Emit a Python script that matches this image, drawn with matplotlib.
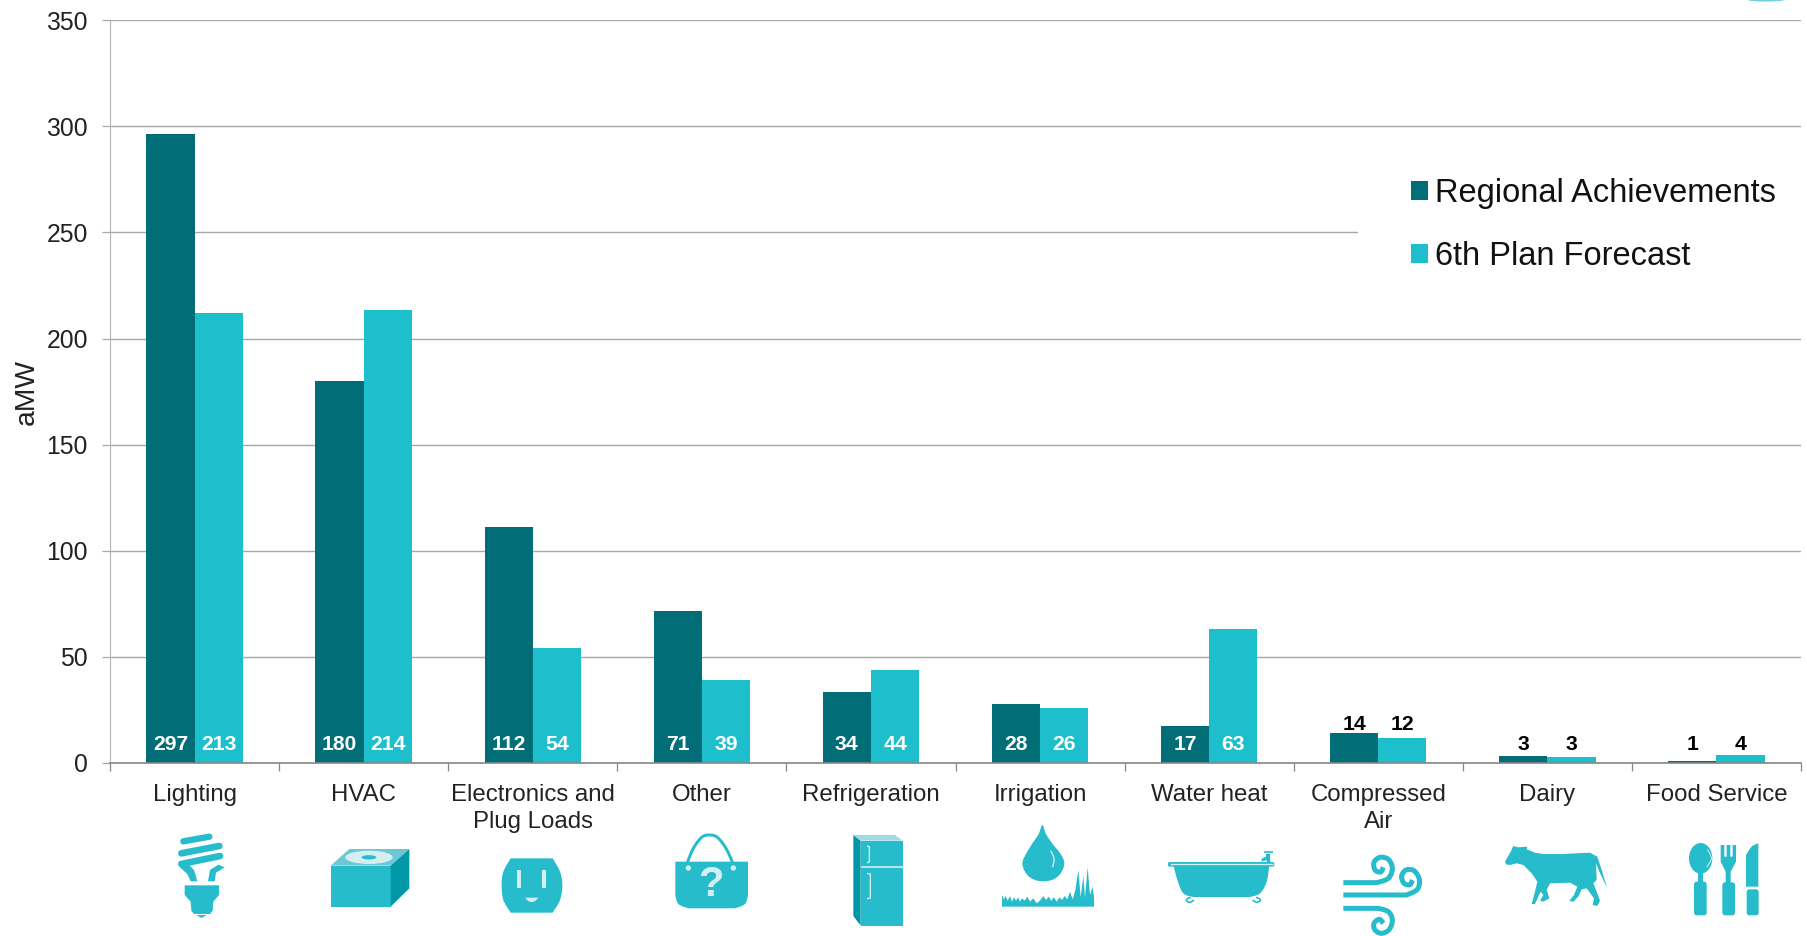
import numpy as np
import matplotlib
matplotlib.use('Agg')
import matplotlib.pyplot as plt
from matplotlib.patches import Polygon, Rectangle, Ellipse, Circle, FancyBboxPatch

categories = ['Lighting', 'HVAC', 'Electronics and\nPlug Loads', 'Other', 'Refrigeration',
              'Irrigation', 'Water heat', 'Compressed\nAir', 'Dairy', 'Food Service']
regional = [296.5, 180, 111, 71.5, 33.5, 28, 17.5, 14, 3.5, 1]
forecast = [212, 213.5, 54, 39, 44, 26, 63, 12, 3, 4]
regional_labels = ['297', '180', '112', '71', '34', '28', '17', '14', '3', '1']
forecast_labels = ['213', '214', '54', '39', '44', '26', '63', '12', '3', '4']
yticks = [0, 50, 100, 150, 200, 250, 300, 350]

DARK = '#006d77'
LIGHT = '#1dbfcd'
ICON = '#27bccb'
ICON_DARK = '#0097a6'
ICON_PALE = '#d3eff3'

W, H = 1807, 936
plt.rcParams['font.family'] = ['Liberation Sans', 'DejaVu Sans']
fig = plt.figure(figsize=(W/100, H/100), dpi=100)
ax = fig.add_axes([110/W, 1-763/H, (1801-110)/W, (763-20.3)/H])

x = np.arange(len(categories))+0.5
w = 0.285
ax.bar(x-w/2, regional, w, color=DARK, label='Regional Achievements')
ax.bar(x+w/2, forecast, w, color=LIGHT, label='6th Plan Forecast')
ax.set_xlim(0, 10)
ax.set_ylim(0, 350)
ax.set_axisbelow(True)
ax.yaxis.grid(True, color='#a8a8a8', lw=1.0)
ax.set_yticks(yticks)
ax.tick_params(axis='y', labelsize=17.8, length=6, width=0.9, color='#a8a8a8', pad=10, labelcolor='#222222')
ax.set_xticks(np.arange(11))
ax.set_xticklabels([])
ax.tick_params(axis='x', which='major', length=6, width=0.9, color='#868686')
ax.set_xticks(x, minor=True)
ax.set_xticklabels(categories, minor=True, fontsize=17.3, color='#222222', linespacing=1.3)
ax.tick_params(axis='x', which='minor', length=0, pad=15)
for s in ['top', 'right']:
    ax.spines[s].set_visible(False)
ax.spines['left'].set_color('#b4b4b4')
ax.spines['bottom'].set_color('#868686')
ax.spines['bottom'].set_linewidth(1.2)
fig.text(27/W, 1-392/H, 'aMW', rotation=90, fontsize=20.3, color='#222222', ha='center', va='center')

# bar value labels sit at a fixed height above the axis
for i in range(len(categories)):
    off = 38 if categories[i].startswith('Compressed') else 18
    col = 'white' if i < 7 else 'black'
    for xx, t in ((x[i]-w/2, regional_labels[i]), (x[i]+w/2, forecast_labels[i])):
        ax.annotate(t, (xx, 0), xytext=(0, off*0.72), textcoords='offset points', ha='center', va='center',
                    fontsize=15.2, fontweight='bold', color=col)

# legend knocks out the 250 gridline behind it
ax.add_patch(Rectangle(((1358-110)/169.1, 225), 3, 50, color='white', zorder=0.8, clip_on=False, lw=0))
leg = ax.legend(loc='upper left', bbox_to_anchor=(1411/W, 1-178/H), bbox_transform=fig.transFigure,
                frameon=False, fontsize=23.5, handlelength=0.52, handleheight=0.52, handletextpad=0.22,
                labelspacing=0.98, borderpad=0, borderaxespad=0)
for t in leg.get_texts():
    t.set_color('#111111')

# icons under the axis, drawn in pixel space. coords are (origin + zoomed/3)
ov = fig.add_axes([0, 0, 1, 1], zorder=5)
ov.set_xlim(0, W)
ov.set_ylim(H, 0)
ov.axis('off')


def smooth(pts, closed=False, n=12):
    p = np.array(pts, float)
    if closed:
        p = np.vstack([p[-1], p, p[0], p[1]])
    else:
        p = np.vstack([p[0], p, p[-1]])
    out = []
    for i in range(1, len(p)-2):
        for t in np.linspace(0, 1, n, endpoint=False):
            a = 2*p[i]+(p[i+1]-p[i-1])*t+(2*p[i-1]-5*p[i]+4*p[i+1]-p[i+2])*t*t
            b = (3*p[i]-p[i-1]-3*p[i+1]+p[i+2])*t*t*t
            out.append(0.5*(a+b))
    if not closed:
        out.append(p[-1])
    return np.array(out)


def poly(o, pts, color=ICON):
    p = np.array(pts, float)/3+o
    ov.add_patch(Polygon(p, closed=True, color=color, lw=0))


def stroke(o, pts, width, color=ICON, cap='butt'):
    p = np.array(pts, float)/3+o
    ov.plot(p[:, 0], p[:, 1], color=color, lw=width/3*0.72, solid_capstyle=cap, solid_joinstyle='round')


def rrect(o, x0, y0, x1, y1, r=4, color=ICON):
    ov.add_patch(FancyBboxPatch((o[0]+(x0+r)/3, o[1]+(y0+r)/3), (x1-x0-2*r)/3, (y1-y0-2*r)/3,
                                boxstyle=f'round,pad={r/3},rounding_size={r/3}', color=color, lw=0))


def ell(o, cx, cy, wd, ht, color=ICON):
    ov.add_patch(Ellipse((o[0]+cx/3, o[1]+cy/3), wd/3, ht/3, color=color, lw=0))


# bulb
o = np.array([150, 820])
stroke(o, [(100, 64), (178, 50)], 19, cap='round')
stroke(o, [(94, 100), (208, 78)], 20, cap='round')
stroke(o, [(94, 132), (210, 108)], 20, cap='round')
poly(o, [(86, 125), (110, 128), (132, 150), (142, 184), (122, 184), (112, 162), (90, 142)])
poly(o, [(174, 184), (194, 184), (198, 158), (224, 142), (205, 134), (180, 150)])
poly(o, [(104, 196), (207, 196), (207, 225), (190, 245), (188, 272), (180, 282), (132, 282), (124, 272), (122, 245), (104, 225)])
poly(o, [(138, 285), (170, 285), (155, 294)])
# HVAC box
poly(o, [(542, 137), (722, 137), (722, 260), (542, 260)])
poly(o, [(542, 137), (722, 137), (778, 87), (598, 87)], color='#6cc8d4')
poly(o, [(722, 137), (778, 87), (778, 205), (722, 260)], color=ICON_DARK)
ell(o, 657, 112, 142, 40, color='#d5eef2')
ell(o, 657, 112, 44, 13, color=ICON)

# outlet
o = np.array([480, 820])
side_r = smooth([(218, 115), (240, 155), (247, 195), (240, 240), (218, 278)])
side_l = smooth([(92, 278), (70, 240), (65, 195), (70, 155), (92, 115)])
poly(o, np.vstack([side_r, side_l]))
poly(o, [(112, 150), (123, 150), (123, 205), (112, 205)], color=ICON_PALE)
poly(o, [(187, 150), (198, 150), (198, 205), (187, 205)], color=ICON_PALE)
poly(o, np.vstack([[(135, 233), (176, 233)], smooth([(176, 233), (165, 243), (155, 246), (145, 243), (135, 233)])]), color=ICON_PALE)
# bag
stroke(o, smooth([(622, 128), (640, 85), (665, 52), (688, 45), (712, 52), (738, 85), (758, 128)]), 9)
poly(o, np.vstack([[(586, 125), (804, 125), (804, 225)], smooth([(804, 225), (795, 252), (765, 265)]),
                   smooth([(625, 265), (595, 252), (586, 225)])]))
ov.add_patch(Circle(o+np.array([625, 144])/3, 8/3, color=ICON_PALE, lw=0))
ov.add_patch(Circle(o+np.array([760, 144])/3, 8/3, color=ICON_PALE, lw=0))
ov.text(o[0]+693/3, o[1]+196/3, '?', fontsize=30, fontweight='bold', color=ICON_PALE, ha='center', va='center')

# fridge
o = np.array([830, 810])
poly(o, [(92, 92), (218, 92), (218, 347), (92, 347)])
poly(o, [(70, 75), (92, 92), (92, 347), (70, 318)], color=ICON_DARK)
poly(o, [(70, 75), (195, 75), (218, 92), (92, 92)], color='#9ddce4')
stroke(o, [(92, 172), (218, 172)], 5, color=ICON_PALE)
stroke(o, [(111, 108), (118, 110), (118, 156), (111, 158)], 4, color=ICON_PALE)
stroke(o, [(111, 190), (121, 192), (121, 264), (111, 266)], 4, color=ICON_PALE)
# drop and grass
poly(o, smooth([(637, 45), (648, 72), (668, 102), (692, 132), (703, 160), (692, 190), (670, 208), (640, 214),
                (610, 208), (588, 190), (577, 160), (588, 132), (606, 102), (626, 72)], closed=True))
stroke(o, smooth([(662, 122), (672, 145), (668, 172)]), 4, color=ICON_PALE)
grass_x = [516, 516, 522, 527, 533, 540, 546, 552, 558, 564, 570, 576, 584, 592, 600, 610, 620, 630, 640, 648, 656, 664, 672,
           680, 688, 696, 704, 712, 720, 728, 736, 745, 752, 760, 765, 773, 780, 788, 792, 792]
grass_y = [290, 255, 268, 258, 272, 258, 275, 262, 272, 262, 275, 265, 272, 260, 275, 265, 280, 272, 258, 270, 260, 272, 262,
           275, 262, 270, 258, 268, 245, 268, 240, 180, 262, 198, 262, 172, 255, 230, 262, 290]
poly(o, list(zip(grass_x, grass_y)))

# bathtub
o = np.array([1160, 830])
poly(o, np.vstack([[(40, 104), (328, 104)], smooth([(328, 104), (320, 155), (300, 190), (270, 201)]),
                   smooth([(100, 201), (70, 190), (52, 150), (40, 104)])]))
rrect(o, 24, 96, 343, 110, r=5, color=ICON)
stroke(o, [(30, 101), (338, 101)], 4, color=ICON_PALE)
stroke(o, smooth([(78, 212), (90, 217), (102, 210)]), 5)
stroke(o, smooth([(278, 210), (290, 217), (302, 212)]), 5)
stroke(o, smooth([(92, 202), (82, 206), (78, 212)]), 5)
stroke(o, smooth([(288, 202), (298, 206), (302, 212)]), 5)
poly(o, [(318, 72), (330, 72), (331, 97), (320, 97), (320, 90), (305, 95), (305, 86), (318, 80)])
stroke(o, [(312, 67), (338, 67)], 5)
# wind
stroke(o, np.vstack([[(550, 158), (650, 158)], smooth([(650, 158), (685, 145), (697, 115), (685, 88), (660, 82), (642, 97), (645, 120), (662, 126), (670, 112)])]), 15)
stroke(o, np.vstack([[(550, 195), (740, 195)], smooth([(740, 195), (772, 178), (778, 148), (762, 122), (738, 120), (725, 138), (732, 160), (750, 164), (757, 150)])]), 15)
stroke(o, np.vstack([[(550, 235), (655, 235)], smooth([(655, 235), (685, 245), (697, 270), (688, 298), (665, 310), (645, 300), (642, 280), (658, 268), (670, 280)])]), 15)

# cow
o = np.array([1490, 830])
cow_x = [45, 62, 70, 85, 112, 110, 135, 160, 220, 300, 322, 335, 352, 340, 328, 318, 320, 310, 322, 330, 322, 308, 312, 290, 275, 265, 250, 238, 252, 262, 240,
         180, 170, 178, 160, 150, 160, 152, 135, 125, 135, 142, 125, 100, 80, 60, 48]
cow_y = [95, 65, 48, 52, 50, 58, 68, 72, 72, 68, 80, 120, 175, 150, 125, 100, 150, 160, 190, 212, 228, 225, 205, 175, 178, 200, 215, 213, 195, 170, 158,
         160, 180, 205, 215, 212, 195, 185, 222, 222, 185, 155, 130, 105, 100, 105, 103]
poly(o, list(zip(cow_x, cow_y)))
# cutlery
ell(o, 632, 85, 70, 92)
stroke(o, smooth([(652, 58), (664, 85), (650, 112)]), 3, color=ICON_PALE)
poly(o, [(625, 125), (640, 125), (640, 160), (625, 160)])
rrect(o, 612, 155, 650, 256, r=8)
poly(o, [(692, 45), (703, 45), (703, 80), (710, 80), (710, 45), (721, 45), (721, 80), (728, 80), (728, 45), (738, 45), (738, 95), (722, 125), (722, 160), (707, 160), (707, 125), (692, 95)])
rrect(o, 697, 157, 735, 256, r=8)
poly(o, np.vstack([[(805, 40), (805, 170), (768, 170), (768, 75)], smooth([(768, 75), (785, 50), (805, 40)])]))
rrect(o, 770, 178, 806, 256, r=8)

# sliver of a logo cut off at the top edge
ov.add_patch(Ellipse((1766, 0), 36, 3, color='#6fd0da', lw=0))

fig.savefig('out.png', dpi=100, facecolor='white')
